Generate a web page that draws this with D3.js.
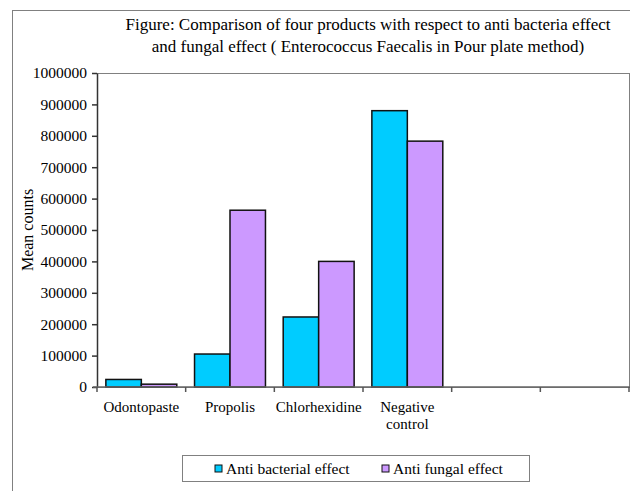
<!DOCTYPE html>
<html>
<head>
<meta charset="utf-8">
<script src="https://cdn.jsdelivr.net/npm/d3@7"></script>
<style>
  body { margin: 0; background: #fff; }
  svg { display: block; }
  svg text { font-family: "Liberation Serif", "Times New Roman", serif; }
</style>
</head>
<body>
<svg width="630" height="491"></svg>
<script>
// categories (last two slots are empty in the original chart)
const categories = ['Odontopaste', 'Propolis', 'Chlorhexidine', 'Negative control', 'slot5', 'slot6'];
const seriesNames = ['Anti bacterial effect', 'Anti fungal effect'];
const antiBacterial = [24000, 105000, 223000, 880000];
const antiFungal = [9000, 563000, 400000, 783000];
const yTicks = [0, 100000, 200000, 300000, 400000, 500000, 600000, 700000, 800000, 900000, 1000000];
const colors = ['#00CCFF', '#CC99FF'];

const FONT = '"Liberation Serif", "Times New Roman", serif';
const svg = d3.select('svg');
const margin = { left: 97, top: 73, right: 629, bottom: 387 };

// outer frame
svg.append('rect')
  .attr('x', 12.5).attr('y', 10.5)
  .attr('width', 640).attr('height', 500)
  .attr('fill', 'none').attr('stroke', '#808080');

// title
const title = svg.append('text')
  .attr('text-anchor', 'middle')
  .attr('font-family', FONT)
  .style('font-size', '17px')
  .attr('fill', '#000');
title.append('tspan').attr('x', 368).attr('y', 30)
  .text('Figure: Comparison of four products with respect to anti bacteria effect');
title.append('tspan').attr('x', 368).attr('y', 52)
  .text('and fungal effect ( Enterococcus Faecalis  in Pour plate method)');

const x = d3.scaleBand()
  .domain(categories)
  .range([margin.left, margin.right])
  .paddingInner(0)
  .paddingOuter(0);

const xInner = d3.scaleBand()
  .domain(seriesNames)
  .range([0, x.bandwidth()])
  .paddingOuter(0.25)
  .paddingInner(0);

const y = d3.scaleLinear()
  .domain([0, 1000000])
  .range([margin.bottom, margin.top]);

// plot area border
svg.append('rect')
  .attr('x', margin.left + 0.5).attr('y', margin.top + 0.5)
  .attr('width', margin.right - margin.left)
  .attr('height', margin.bottom - margin.top)
  .attr('fill', 'none').attr('stroke', '#808080');

// bars
const data = categories.slice(0, 4).map((c, i) => ({ cat: c, values: [antiBacterial[i], antiFungal[i]] }));

const groups = svg.selectAll('.group')
  .data(data)
  .join('g')
  .attr('class', 'group')
  .attr('transform', (d) => `translate(${x(d.cat)},0)`);

groups.selectAll('rect')
  .data((d) => d.values.map((v, i) => ({ name: seriesNames[i], v, i })))
  .join('rect')
  .attr('x', (d) => xInner(d.name))
  .attr('y', (d) => y(d.v))
  .attr('width', xInner.bandwidth())
  .attr('height', (d) => y(0) - y(d.v))
  .attr('fill', (d) => colors[d.i])
  .attr('stroke', '#111')
  .attr('stroke-width', 1.5);

// y axis
const yAxis = svg.append('g')
  .attr('transform', `translate(${margin.left},0)`)
  .call(d3.axisLeft(y).tickValues(yTicks).tickFormat(d3.format('d')).tickSize(5).tickSizeOuter(0));
yAxis.attr('font-family', FONT).attr('font-size', 15);
yAxis.select('.domain').attr('stroke', '#333').attr('stroke-width', 1.5);
yAxis.selectAll('.tick line').attr('stroke', '#333').attr('stroke-width', 1.5);
yAxis.selectAll('.tick text')
  .attr('x', -10)
  .attr('font-family', FONT)
  .attr('font-size', 15.5)
  .attr('fill', '#000');

// x axis
const xAxisG = svg.append('g').attr('transform', `translate(0,${margin.bottom})`);
xAxisG.append('line')
  .attr('x1', margin.left - 4).attr('x2', margin.right + 1)
  .attr('y1', 0).attr('y2', 0)
  .attr('stroke', '#666').attr('stroke-width', 1.5);
const tickPos = categories.map((c) => x(c)).concat([x(categories[5]) + x.bandwidth()]);
xAxisG.selectAll('.xt')
  .data(tickPos)
  .join('line')
  .attr('class', 'xt')
  .attr('x1', (d) => d).attr('x2', (d) => d)
  .attr('y1', 0).attr('y2', 5)
  .attr('stroke', '#555').attr('stroke-width', 1.5);

const xLabels = xAxisG.selectAll('.xl')
  .data(categories.slice(0, 4))
  .join('text')
  .attr('class', 'xl')
  .attr('text-anchor', 'middle')
  .attr('font-family', FONT)
  .attr('font-size', 15)
  .attr('fill', '#000');
xLabels.each(function (d) {
  const words = d === 'Negative control' ? ['Negative', 'control'] : [d];
  const t = d3.select(this);
  words.forEach((w, i) => {
    t.append('tspan')
      .attr('x', x(d) + x.bandwidth() / 2)
      .attr('y', 25 + i * 17)
      .text(w);
  });
});

// y axis title
svg.append('text')
  .attr('transform', 'translate(33,230) rotate(-90)')
  .attr('text-anchor', 'middle')
  .attr('font-family', FONT)
  .attr('font-size', 16)
  .attr('fill', '#000')
  .text('Mean counts');

// legend
const legend = svg.append('g');
legend.append('rect')
  .attr('x', 182.5).attr('y', 455.5)
  .attr('width', 347).attr('height', 26)
  .attr('fill', '#fff').attr('stroke', '#808080');
const legendX = [215, 382];
seriesNames.forEach((name, i) => {
  legend.append('rect')
    .attr('x', legendX[i]).attr('y', 465)
    .attr('width', 7).attr('height', 7)
    .attr('fill', colors[i]).attr('stroke', '#111');
  legend.append('text')
    .attr('x', legendX[i] + 11).attr('y', 474)
    .attr('font-family', FONT)
    .attr('font-size', 15.5)
    .attr('fill', '#000')
    .text(name);
});
</script>
</body>
</html>
